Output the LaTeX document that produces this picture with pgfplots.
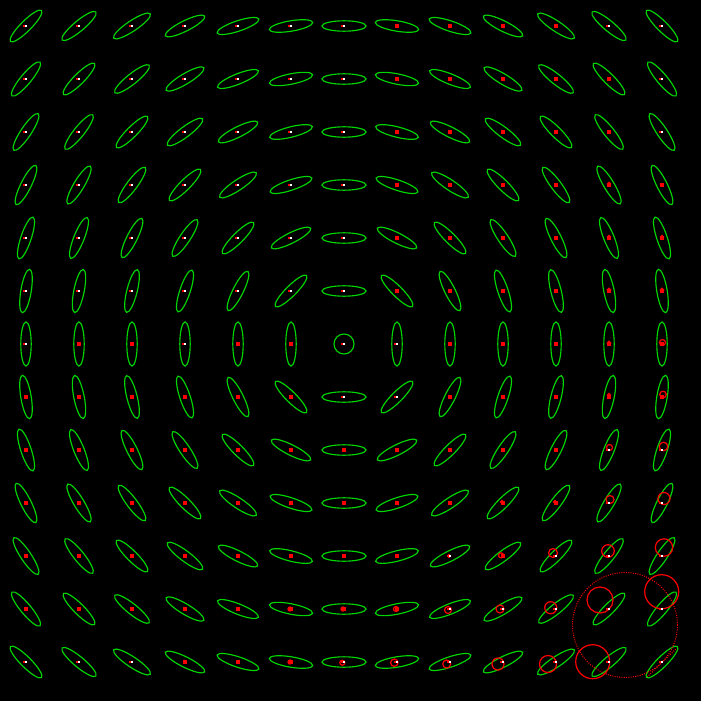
\documentclass[border=0pt]{standalone}
\usepackage{pgfplots}
\usepackage{pgfplotstable}
\pgfplotsset{compat=1.18}
\definecolor{ellgreen}{RGB}{0,215,0}
\pgfdeclareplotmark{ell}{\pgfpathellipse{\pgfpointorigin}{\pgfqpoint{22pt}{0pt}}{\pgfqpoint{0pt}{5.2pt}}\pgfusepathqstroke}
% grid points: x y ellipse-angle white-dot ellipse-flag
\pgfplotstableread{
x y a w e
26 26 45 1 1
79 26 39.81 1 1
132 26 33.69 1 1
185 26 26.57 1 1
238 26 18.43 1 1
291 26 9.46 1 1
344 26 0 1 1
397 26 -9.46 0 1
450 26 -18.43 0 1
503 26 -26.57 0 1
556 26 -33.69 0 1
609 26 -39.81 1 1
662 26 -45 1 1
26 79 50.19 1 1
79 79 45 1 1
132 79 38.66 1 1
185 79 30.96 1 1
238 79 21.80 1 1
291 79 11.31 1 1
344 79 0 1 1
397 79 -11.31 0 1
450 79 -21.80 0 1
503 79 -30.96 0 1
556 79 -38.66 0 1
609 79 -45 0 1
662 79 -50.19 1 1
26 132 56.31 1 1
79 132 51.34 1 1
132 132 45 1 1
185 132 36.87 1 1
238 132 26.57 1 1
291 132 14.04 1 1
344 132 0 1 1
397 132 -14.04 0 1
450 132 -26.57 0 1
503 132 -36.87 0 1
556 132 -45 0 1
609 132 -51.34 0 1
662 132 -56.31 1 1
26 185 63.43 1 1
79 185 59.04 1 1
132 185 53.13 1 1
185 185 45 1 1
238 185 33.69 1 1
291 185 18.43 1 1
344 185 0 1 1
397 185 -18.43 0 1
450 185 -33.69 0 1
503 185 -45 0 1
556 185 -53.13 0 1
609 185 -59.04 0 1
662 185 -63.43 0 1
26 238 71.57 1 1
79 238 68.20 1 1
132 238 63.43 1 1
185 238 56.31 1 1
238 238 45 1 1
291 238 26.57 1 1
344 238 0 1 1
397 238 -26.57 0 1
450 238 -45 0 1
503 238 -56.31 0 1
556 238 -63.43 0 1
609 238 -68.20 0 1
662 238 -71.57 0 1
26 291 80.54 1 1
79 291 78.69 1 1
132 291 75.96 1 1
185 291 71.57 1 1
238 291 63.43 1 1
291 291 45 1 1
344 291 0 1 1
397 291 -45 0 1
450 291 -63.43 0 1
503 291 -71.57 0 1
556 291 -75.96 0 1
609 291 -78.69 0 1
662 291 -80.54 0 1
26 344 90 1 1
79 344 90 0 1
132 344 90 0 1
185 344 90 1 1
238 344 90 0 1
291 344 90 0 1
344 344 0 1 0
397 344 90 1 1
450 344 90 0 1
503 344 90 0 1
556 344 90 0 1
609 344 90 0 1
662 344 90 0 1
26 397 -80.54 0 1
79 397 -78.69 0 1
132 397 -75.96 0 1
185 397 -71.57 0 1
238 397 -63.43 0 1
291 397 -45 0 1
344 397 0 1 1
397 397 45 1 1
450 397 63.43 0 1
503 397 71.57 0 1
556 397 75.96 0 1
609 397 78.69 0 1
662 397 80.54 0 1
26 450 -71.57 0 1
79 450 -68.20 0 1
132 450 -63.43 0 1
185 450 -56.31 0 1
238 450 -45 0 1
291 450 -26.57 0 1
344 450 0 0 1
397 450 26.57 0 1
450 450 45 0 1
503 450 56.31 0 1
556 450 63.43 0 1
609 450 68.20 1 1
662 450 71.57 1 1
26 503 -63.43 0 1
79 503 -59.04 0 1
132 503 -53.13 0 1
185 503 -45 0 1
238 503 -33.69 0 1
291 503 -18.43 0 1
344 503 0 0 1
397 503 18.43 0 1
450 503 33.69 0 1
503 503 45 0 1
556 503 53.13 0 1
609 503 59.04 1 1
662 503 63.43 1 1
26 556 -56.31 0 1
79 556 -51.34 0 1
132 556 -45 0 1
185 556 -36.87 0 1
238 556 -26.57 0 1
291 556 -14.04 0 1
344 556 0 0 1
397 556 14.04 0 1
450 556 26.57 1 1
503 556 36.87 0 1
556 556 45 1 1
609 556 51.34 1 1
662 556 56.31 1 1
26 609 -50.19 0 1
79 609 -45 0 1
132 609 -38.66 0 1
185 609 -30.96 0 1
238 609 -21.80 0 1
291 609 -11.31 0 1
344 609 0 0 1
397 609 11.31 0 1
450 609 21.80 1 1
503 609 30.96 1 1
556 609 38.66 1 1
609 609 45 1 1
662 609 50.19 1 1
26 662 -45 1 1
79 662 -39.81 1 1
132 662 -33.69 1 1
185 662 -26.57 0 1
238 662 -18.43 0 1
291 662 -9.46 0 1
344 662 0 1 1
397 662 9.46 1 1
450 662 18.43 1 1
503 662 26.57 1 1
556 662 33.69 1 1
609 662 39.81 1 1
662 662 45 1 1
}\pts
% red uncertainty circles: centre and radius (px)
\pgfplotstableread{
x y r
609 184 1.5
609 237 1.5
662 237 1.5
609 290 1.7
662 290 1.7
609 343 1.8
662.5 342.5 3
609 395 1.5
663 394.5 3.3
609.5 447.5 3
663.5 446.5 4.3
502 502 1.5
555 502 1.5
610 499.5 4
664 498.5 6
449 556 1.5
501 555.3 2.5
553 553 4.5
608 551 6.3
664 547.5 8.7
290 609 2
343 609 2
396 609 2.5
448 610 3.5
500 609 4
550.7 607.7 6
600 600 13
661.7 591.7 17
290 662 2
342.3 662.7 2.5
394.3 662.7 3.7
446.7 664 4
498 664 6
548 664 8.5
592.7 661.7 17
}\circs
\begin{document}
\begin{tikzpicture}
\begin{axis}[
  scale only axis, width=701pt, height=701pt,
  xmin=0, xmax=701, ymin=0, ymax=701, y dir=reverse,
  axis line style={draw=none}, ticks=none,
  axis background/.style={fill=black},
  clip=false]
% ellipses
\addplot[scatter, only marks, mark=ell, color=ellgreen, line width=1.15pt,
  visualization depends on={\thisrow{a} \as \ang},
  scatter/@pre marker code/.code={\scope[rotate=\ang]},
  scatter/@post marker code/.code={\endscope}]
  table[x=x, y expr={\thisrow{e}>0 ? \thisrow{y} : nan}] {\pts};
% centre circle
\addplot[only marks, mark=o, mark size=10pt, color=ellgreen, line width=1.15pt]
  table[x=x, y expr={\thisrow{e}<1 ? \thisrow{y} : nan}] {\pts};
% red circles
\addplot[scatter, only marks, mark=o, color=red, line width=1.2pt,
  visualization depends on={\thisrow{r} \as \rad},
  scatter/@pre marker code/.code={\scope[mark size=\rad]},
  scatter/@post marker code/.code={\endscope}]
  table[x=x, y=y] {\circs};
% big dotted circle and thin red segment
\addplot[only marks, mark=o, mark size=52.5pt, color=red, line width=1pt,
  mark options={dash pattern=on 1pt off 1.3pt}] coordinates {(625,625)};
\addplot[red, line width=1pt, dash pattern=on 1pt off 1.3pt]
  coordinates {(647,677) (677,648)};
% dots
\addplot[only marks, mark=square*, mark size=0.9pt, color=red, line width=0pt]
  table[x expr=\thisrow{x}-1.2, y expr={\thisrow{w}>0 ? \thisrow{y} : nan}] {\pts};
\addplot[only marks, mark=square*, mark size=0.9pt, color=white, line width=0pt]
  table[x=x, y expr={\thisrow{w}>0 ? \thisrow{y} : nan}] {\pts};
\addplot[only marks, mark=square*, mark size=1.1pt, color=red, line width=0pt]
  table[x=x, y expr={\thisrow{w}<1 ? \thisrow{y} : nan}] {\pts};
\end{axis}
\end{tikzpicture}
\end{document}
